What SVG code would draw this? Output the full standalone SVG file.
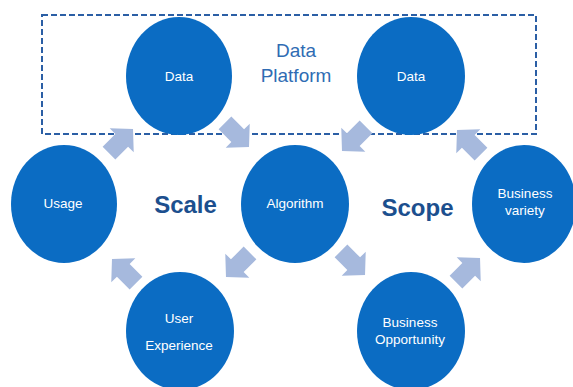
<svg xmlns="http://www.w3.org/2000/svg" width="573" height="387" viewBox="0 0 573 387">
<defs>
<style>
.node{fill:#0b6cc3}
.lbl{font-family:"Liberation Sans",Arial,sans-serif;font-size:13.5px;fill:#ffffff;text-anchor:middle}
.big{font-family:"Liberation Sans",Arial,sans-serif;font-size:24px;font-weight:bold;fill:#1c4f8e;text-anchor:middle}
.plat{font-family:"Liberation Sans",Arial,sans-serif;font-size:19px;fill:#2f6cb3;text-anchor:middle}
.arr{fill:#a6b9dd}
</style>
<path id="ba" d="M -17,-9 L 1,-9 L 1,-17 L 17,0 L 1,17 L 1,9 L -17,9 Z"/>
</defs>
<rect width="573" height="387" fill="#ffffff"/>
<g id="platform">
<rect x="42" y="15" width="494" height="119" fill="none" stroke="#2b5fa5" stroke-width="2" stroke-dasharray="6,3"/>
<text class="plat" x="296" y="57">Data</text>
<text class="plat" x="296" y="82">Platform</text>
</g>
<g id="connectors">
<use href="#ba" class="arr" transform="translate(121,141) rotate(-45)"/>
<use href="#ba" class="arr" transform="translate(237,135) rotate(45)"/>
<use href="#ba" class="arr" transform="translate(238,265) rotate(135)"/>
<use href="#ba" class="arr" transform="translate(124,271) rotate(-135)"/>
<use href="#ba" class="arr" transform="translate(354,139) rotate(135)"/>
<use href="#ba" class="arr" transform="translate(469,142) rotate(-135)"/>
<use href="#ba" class="arr" transform="translate(353,263) rotate(45)"/>
<use href="#ba" class="arr" transform="translate(468,270) rotate(-45)"/>
</g>
<g id="data1"><ellipse class="node" cx="179" cy="76" rx="53" ry="59"/><text class="lbl" x="179" y="81">Data</text></g>
<g id="data2"><ellipse class="node" cx="411" cy="76" rx="54" ry="59"/><text class="lbl" x="411" y="81">Data</text></g>
<g id="usage"><ellipse class="node" cx="64" cy="204" rx="53" ry="59"/><text class="lbl" x="63" y="208">Usage</text></g>
<g id="algorithm"><ellipse class="node" cx="295" cy="204" rx="54" ry="59"/><text class="lbl" x="295" y="208">Algorithm</text></g>
<g id="variety"><ellipse class="node" cx="524" cy="204" rx="52" ry="59"/><text class="lbl" x="525" y="198">Business</text><text class="lbl" x="525" y="215">variety</text></g>
<g id="ux"><ellipse class="node" cx="180" cy="331" rx="54" ry="59"/><text class="lbl" x="179" y="323">User</text><text class="lbl" x="179" y="350">Experience</text></g>
<g id="opportunity"><ellipse class="node" cx="411" cy="331" rx="54" ry="59"/><text class="lbl" x="410" y="327">Business</text><text class="lbl" x="410" y="344">Opportunity</text></g>
<g id="labels">
<text class="big" x="185.5" y="213">Scale</text>
<text class="big" x="417.5" y="216">Scope</text>
</g>
</svg>
